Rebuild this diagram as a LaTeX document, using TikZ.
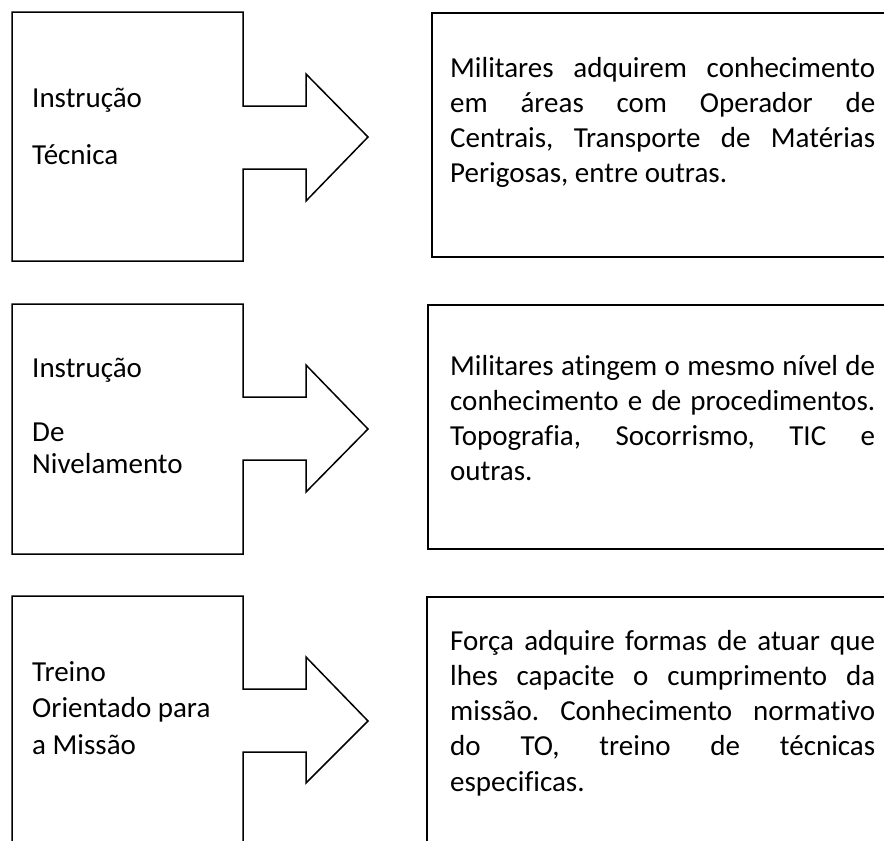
\documentclass[tikz,border=0pt]{standalone}
\usepackage{fontspec}
\setmainfont{Carlito}[Ligatures=NoCommon]
\frenchspacing
\tikzset{
  callout/.style={draw=black, line width=1.5pt, line join=miter},
  textframe/.style={draw=black, line width=2.2pt},
  lbl/.style={anchor=base west, inner sep=0pt, font=\fontsize{29}{35}\selectfont},
}
\newcommand{\jline}[1]{\makebox[425pt][s]{#1}}
\begin{document}
\begin{tikzpicture}[x=1pt,y=-1pt]
\useasboundingbox (0,0) rectangle (884,841);
\clip (0,0) rectangle (884,841);
\fill[white] (0,0) rectangle (884,841);
% callout 1
\draw[callout] (12,12) -- (243,12) -- (243,106) -- (306,106) -- (306,74) -- (368,137)
  -- (306,201) -- (306,169) -- (243,169) -- (243,261) -- (12,261) -- cycle;
\node[lbl] (t1) at (32,107) {\parbox[t]{200pt}{Instrução\\[22pt]Técnica}};
\draw[textframe] (432,13) rectangle (900,257);
\node[lbl] (d1) at (450,77) {\parbox[t]{425pt}{%
  \jline{Militares adquirem conhecimento}\\
  \jline{em áreas com Operador de}\\
  \jline{Centrais, Transporte de Matérias}\\
  Perigosas, entre outras.}};
% callout 2
\draw[callout] (12,304) -- (243,304) -- (243,397) -- (306,397) -- (306,365) -- (368,429)
  -- (306,492) -- (306,460) -- (243,460) -- (243,554) -- (12,554) -- cycle;
\node[lbl] (t2) at (32,377) {\parbox[t]{200pt}{Instrução\\[29pt]De\\[-3pt]Nivelamento}};
\draw[textframe] (428,305) rectangle (900,549);
\node[lbl] (d2) at (450,375) {\parbox[t]{425pt}{%
  \jline{Militares atingem o mesmo nível de}\\
  \jline{conhecimento e de procedimentos.}\\
  \jline{Topografia, Socorrismo, TIC e}\\
  outras.}};
% callout 3
\draw[callout] (12,900) -- (12,596) -- (243,596) -- (243,689) -- (306,689) -- (306,657) -- (368,721)
  -- (306,783) -- (306,752) -- (243,752) -- (243,900);
\node[lbl] (t3) at (32,681) {\parbox[t]{200pt}{Treino\\[1pt]Orientado para\\[2pt]a Missão}};
\draw[textframe] (427,900) -- (427,597) -- (900,597);
\node[lbl] (d3) at (450,650) {\parbox[t]{425pt}{%
  \jline{Força adquire formas de atuar que}\\
  \jline{lhes capacite o cumprimento da}\\
  \jline{missão. Conhecimento normativo}\\
  \jline{do TO, treino de técnicas}\\[1pt]
  especificas.}};
\end{tikzpicture}
\end{document}
